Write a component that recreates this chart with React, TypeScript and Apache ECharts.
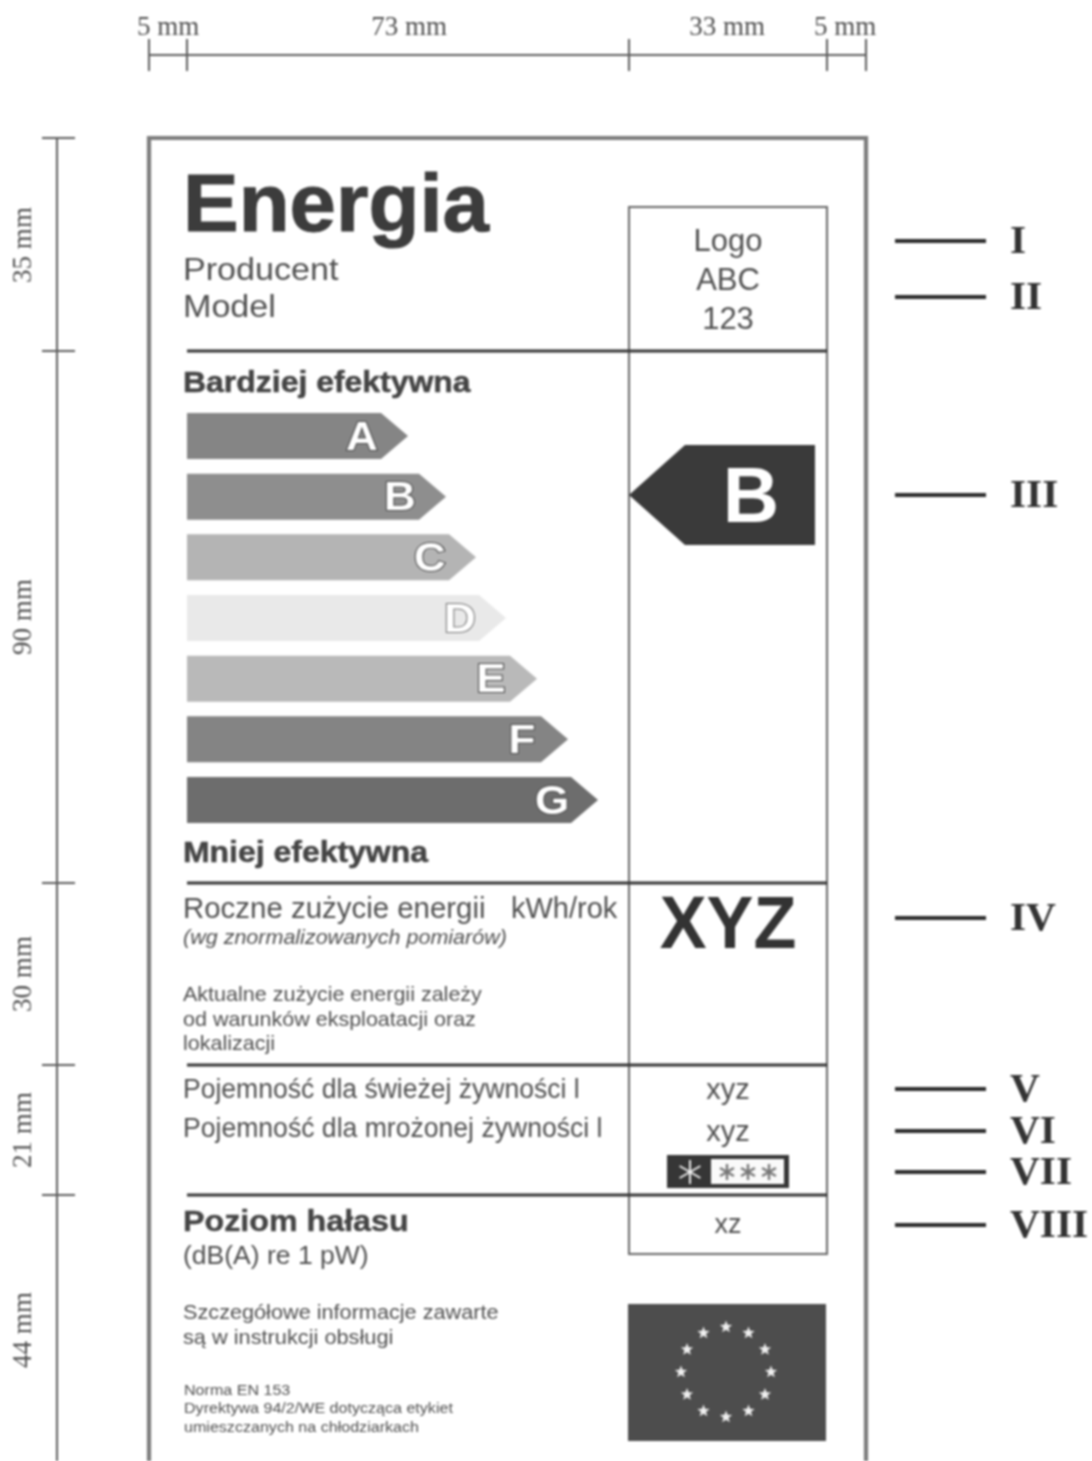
import React, { useEffect, useRef } from "react";
import * as echarts from "echarts";

const grades = ["A", "B", "C", "D", "E", "F", "G"];
const arrowLengths = [221, 259, 289, 319, 350, 381, 411];
const arrowShades = ["#858585", "#8e8e8e", "#b4b4b4", "#e9e9e9", "#b9b9b9", "#848484", "#6d6d6d"];
const topDimensions = ["5 mm", "73 mm", "33 mm", "5 mm"];
const sideDimensions = ["35 mm", "90 mm", "30 mm", "21 mm", "44 mm"];
const romanNumerals = ["I", "II", "III", "IV", "V", "VI", "VII", "VIII"];
const logoLines = ["Logo", "ABC", "123"];

const SANS = '"Liberation Sans", Arial, sans-serif';
const SERIF = '"Liberation Serif", "Times New Roman", serif';

type TextOpts = { align?: string; weight?: string; italic?: boolean; fill?: string; family?: string; rotation?: number; scaleX?: number; heavy?: number };

function label(text: string, x: number, y: number, size: number, o: TextOpts = {}) {
  const font = `${o.italic ? "italic " : ""}${o.weight || "normal"} ${size}px ${o.family || SANS}`;
  const align = o.align || "left";
  const fill = o.fill || "#4a4a4a";
  return {
    type: "text", x, y, rotation: o.rotation || 0, scaleX: o.scaleX || 1, silent: true,
    style: {
      text, x: 0, y: 0, font, fill, align, textAlign: align, verticalAlign: "middle", textVerticalAlign: "middle",
      ...(o.heavy ? { stroke: fill, lineWidth: o.heavy } : {}),
    },
  };
}
function seg(x1: number, y1: number, x2: number, y2: number, stroke: string, lineWidth: number) {
  return { type: "line", silent: true, shape: { x1, y1, x2, y2 }, style: { stroke, lineWidth, fill: "none" } };
}
function flake(cx: number, cy: number, r: number, stroke: string, lineWidth: number) {
  const out: any[] = [];
  for (let i = 0; i < 3; i++) {
    const a = Math.PI / 2 + (i * Math.PI) / 3;
    out.push(seg(cx - r * Math.cos(a), cy - r * Math.sin(a), cx + r * Math.cos(a), cy + r * Math.sin(a), stroke, lineWidth));
  }
  return out;
}
function star(cx: number, cy: number, R: number) {
  const points: number[][] = [];
  for (let i = 0; i < 10; i++) {
    const a = -Math.PI / 2 + (i * Math.PI) / 5;
    const r = i % 2 ? R * 0.42 : R;
    points.push([cx + r * Math.cos(a), cy + r * Math.sin(a)]);
  }
  return { type: "polygon", silent: true, shape: { points }, style: { fill: "#f0f0f0" } };
}

function buildGraphic() {
  const els: any[] = [];
  const ruleGrey = "#5c5c5c";
  const dark = "#333333";

  // top dimension line
  els.push(seg(149, 55, 866, 55, ruleGrey, 2));
  [149, 187, 629, 827, 866].forEach((x) => els.push(seg(x, 39, x, 71, ruleGrey, 2)));
  [168, 409, 727, 845].forEach((x, i) => els.push(label(topDimensions[i], x, 26, 27, { align: "center", family: SERIF, fill: "#505050" })));

  // side dimension line
  els.push(seg(57, 138, 57, 1461, ruleGrey, 2));
  [138, 351, 883, 1065, 1195].forEach((y) => els.push(seg(42, y, 75, y, ruleGrey, 2)));
  [245, 617, 974, 1130, 1330].forEach((y, i) =>
    els.push(label(sideDimensions[i], 22, y, 27, { align: "center", family: SERIF, fill: "#505050", rotation: Math.PI / 2 })));

  // label frame
  els.push({ type: "polyline", silent: true, shape: { points: [[149, 1461], [149, 138], [866, 138], [866, 1461]] }, style: { stroke: "#7c7c7c", lineWidth: 4.2, fill: "none" } });

  // value column
  els.push({ type: "rect", silent: true, shape: { x: 629, y: 207, width: 198, height: 1047 }, style: { stroke: "#666", lineWidth: 2, fill: "none" } });
  [351, 883, 1065, 1195].forEach((y) => els.push(seg(187, y, 827, y, dark, 3)));

  // header
  els.push(label("Energia", 183, 203, 81, { weight: "bold", fill: "#3c3c3c", scaleX: 1.03, heavy: 1 }));
  els.push(label("Producent", 183, 270, 31, { scaleX: 1.1, fill: "#505050" }));
  els.push(label("Model", 183, 307, 31, { scaleX: 1.1, fill: "#505050" }));
  logoLines.forEach((t, i) => els.push(label(t, 728, 240 + i * 39, 31, { align: "center", fill: "#505050" })));

  // scale headings
  els.push(label("Bardziej efektywna", 183, 382, 30, { weight: "bold", fill: "#444", scaleX: 1.065, heavy: 0.5 }));
  els.push(label("Mniej efektywna", 183, 852, 30, { weight: "bold", fill: "#444", scaleX: 1.065, heavy: 0.5 }));

  // rating arrow
  els.push({ type: "polygon", silent: true, shape: { points: [[629, 495], [685, 445], [815, 445], [815, 545], [685, 545]] }, style: { fill: "#3a3a3a" } });
  els.push(label("B", 751, 495, 78, { align: "center", weight: "bold", fill: "#fff" }));

  // consumption
  els.push(label("Roczne zużycie energii", 183, 908, 29, { fill: "#505050", scaleX: 1.015 }));
  els.push(label("kWh/rok", 511, 908, 29, { fill: "#505050" }));
  els.push(label("(wg znormalizowanych pomiarów)", 183, 937, 20.5, { italic: true, fill: "#505050", scaleX: 1.05 }));
  ["Aktualne zużycie energii zależy", "od warunków eksploatacji oraz", "lokalizacji"].forEach((t, i) =>
    els.push(label(t, 183, 994 + i * 24.5, 20.5, { fill: "#505050", scaleX: 1.05 })));
  els.push(label("XYZ", 728, 922, 74, { align: "center", weight: "bold", fill: "#333", scaleX: 0.95 }));

  // volumes
  els.push(label("Pojemność dla świeżej żywności l", 183, 1089, 27, { fill: "#505050", scaleX: 0.983 }));
  els.push(label("Pojemność dla mrożonej żywności l", 183, 1128, 27, { fill: "#505050", scaleX: 0.985 }));
  els.push(label("xyz", 728, 1089, 29, { align: "center", fill: "#505050" }));
  els.push(label("xyz", 728, 1131, 29, { align: "center", fill: "#505050" }));
  els.push({ type: "rect", silent: true, shape: { x: 667, y: 1155, width: 122, height: 33 }, style: { fill: "#363636" } });
  els.push({ type: "rect", silent: true, shape: { x: 711, y: 1159, width: 73, height: 25 }, style: { fill: "#fafafa" } });
  els.push(...flake(690, 1172, 12, "#f0f0f0", 2));
  [727, 748, 769].forEach((x) => els.push(...flake(x, 1172, 8, "#777", 2.4)));

  // noise
  els.push(label("Poziom hałasu", 183, 1221, 30, { weight: "bold", fill: "#444", scaleX: 1.075, heavy: 0.4 }));
  els.push(label("(dB(A) re 1 pW)", 183, 1255, 26, { fill: "#505050", scaleX: 1.02 }));
  els.push(label("xz", 728, 1224, 27, { align: "center", fill: "#505050" }));

  // notes
  els.push(label("Szczegółowe informacje zawarte", 183, 1312, 21, { fill: "#505050", scaleX: 1.033 }));
  els.push(label("są w instrukcji obsługi", 183, 1337, 21, { fill: "#505050", scaleX: 1.036 }));
  els.push(label("Norma EN 153", 184, 1390, 14.5, { fill: "#505050", scaleX: 1.11 }));
  els.push(label("Dyrektywa 94/2/WE dotycząca etykiet", 184, 1408, 14.5, { fill: "#505050", scaleX: 1.11 }));
  els.push(label("umieszczanych na chłodziarkach", 184, 1427, 14.5, { fill: "#505050", scaleX: 1.11 }));

  // flag
  els.push({ type: "rect", silent: true, shape: { x: 628, y: 1304, width: 198, height: 137 }, style: { fill: "#4d4d4d" } });
  for (let i = 0; i < 12; i++) {
    const a = (i * Math.PI) / 6;
    els.push(star(726 + 45 * Math.sin(a), 1372 - 45 * Math.cos(a), 6.5));
  }

  // right-hand keys
  [241, 297, 495, 918, 1089, 1131, 1172, 1225].forEach((y, i) => {
    els.push(seg(895, y, 986, y, "#2c2c2c", 4));
    els.push(label(romanNumerals[i], 1010, y - 1, 39, { weight: "bold", family: SERIF, fill: "#333", scaleX: 1.06 }));
  });
  return els;
}

function renderArrow(params: any, api: any) {
  const i = params.dataIndex;
  const len = api.value(0);
  const [x0, yc] = api.coord([0, i]);
  const [x1] = api.coord([len, i]);
  const half = 23;
  const head = 27;
  return {
    type: "group",
    children: [
      {
        type: "polygon",
        shape: { points: [[x0, yc - half], [x1 - head, yc - half], [x1, yc], [x1 - head, yc + half], [x0, yc + half]] },
        style: { fill: arrowShades[i] },
      },
      {
        type: "text",
        x: x1 - 46, y: yc, scaleX: 1.1,
        style: {
          x: 0, y: 0, text: grades[i], font: `bold 40px ${SANS}`, fill: "#fff",
          stroke: i === 3 ? "#777" : "#4a4a4a", lineWidth: 2,
          align: "center", textAlign: "center", verticalAlign: "middle", textVerticalAlign: "middle",
        },
      },
    ],
  };
}

export default function App() {
  const ref = useRef<HTMLDivElement>(null);
  useEffect(() => {
    const chart = echarts.init(ref.current!, undefined, { renderer: "svg" });
    chart.setOption({
      animation: false,
      backgroundColor: "#ffffff",
      grid: { left: 187, top: 405.67, width: 411, height: 424.67, containLabel: false },
      xAxis: { type: "value", min: 0, max: 411, show: false },
      yAxis: { type: "category", data: grades, inverse: true, show: false },
      series: [{ type: "custom", renderItem: renderArrow, encode: { x: 0, y: 1 }, data: arrowLengths.map((v, i) => [v, grades[i]]), clip: false, silent: true }],
      graphic: { elements: buildGraphic() },
    });
    return () => chart.dispose();
  }, []);
  return <div ref={ref} style={{ position: "absolute", left: 0, top: 0, width: 1092, height: 1461, filter: "blur(1px)" }} />;
}
